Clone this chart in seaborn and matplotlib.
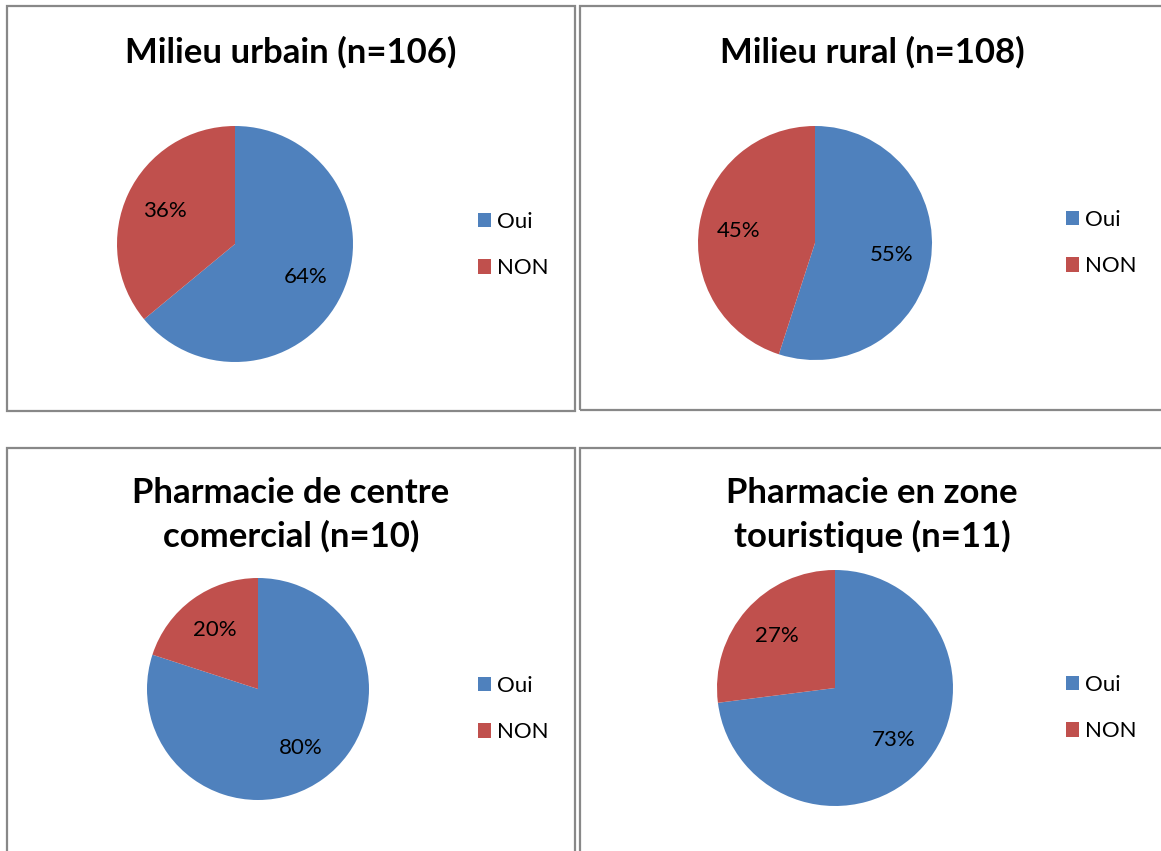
import matplotlib
matplotlib.use("Agg")
import numpy as np
import matplotlib.pyplot as plt
from matplotlib.patches import Rectangle
import seaborn as sns

sns.set_theme(style="white")
plt.rcParams["font.family"] = ["Lato", "DejaVu Sans"]
plt.rcParams["text.color"] = "black"

# Data
titles = [
    "Milieu urbain (n=106)",
    "Milieu rural (n=108)",
    "Pharmacie de centre\ncomercial (n=10)",
    "Pharmacie en zone\ntouristique (n=11)",
]
categories = ["Oui", "NON"]
oui_pct = [64, 55, 80, 73]
non_pct = [36, 45, 20, 27]
colors = ["#4F81BD", "#C0504D"]

W, H = 1161, 851
fig = plt.figure(figsize=(W / 100, H / 100), dpi=100)


def fx(x):
    return x / W


def fy(y):
    return 1 - y / H


# panel frames (left, top, right, bottom) in pixels
frames = [(7, 6, 575, 411), (580, 6, 1175, 410), (7, 448, 575, 870), (580, 448, 1175, 870)]
# pie centre and radius in pixels
pies = [(235, 244, 118), (815, 243, 117), (258, 689, 111), (835, 688, 118)]
# title centre in pixels
title_pos = [(291, 52), (872, 52), (291, 515), (872, 515)]
# legend anchor (left of square, middle between the rows)
legend_pos = [(478, 245), (1066, 243), (478, 709), (1066, 708)]

for i in range(4):
    l, t, r, b = frames[i]
    fig.patches.append(Rectangle((fx(l), fy(b)), fx(r - l), (b - t) / H,
                                 transform=fig.transFigure, fill=False,
                                 edgecolor="#888888", linewidth=1.6, zorder=0))
    cx, cy, rad = pies[i]
    ax = fig.add_axes([fx(cx - rad), fy(cy + rad), fx(2 * rad), 2 * rad / H])
    vals = [oui_pct[i], non_pct[i]]
    wedges, texts = ax.pie(vals, colors=colors, startangle=90, counterclock=False,
                           radius=1, wedgeprops=dict(linewidth=0))
    for w, v in zip(wedges, vals):
        ang = np.deg2rad((w.theta1 + w.theta2) / 2)
        ax.text(0.66 * np.cos(ang), 0.66 * np.sin(ang), f"{v}%",
                ha="center", va="center", fontsize=16, color="black")
    ax.set_xlim(-1, 1)
    ax.set_ylim(-1, 1)
    ax.set_aspect("equal")
    ax.axis("off")

    tx, ty = title_pos[i]
    fig.text(fx(tx), fy(ty), titles[i], ha="center", va="center",
             fontsize=25, fontweight="bold", linespacing=1.4)

    lx, ly = legend_pos[i]
    fig.legend(wedges, categories, loc="center left",
               bbox_to_anchor=(fx(lx), fy(ly)), frameon=False,
               fontsize=16, handlelength=0.6, handleheight=0.6,
               handletextpad=0.25, labelspacing=1.2, borderpad=0,
               borderaxespad=0)

fig.savefig("out.png", dpi=100)
